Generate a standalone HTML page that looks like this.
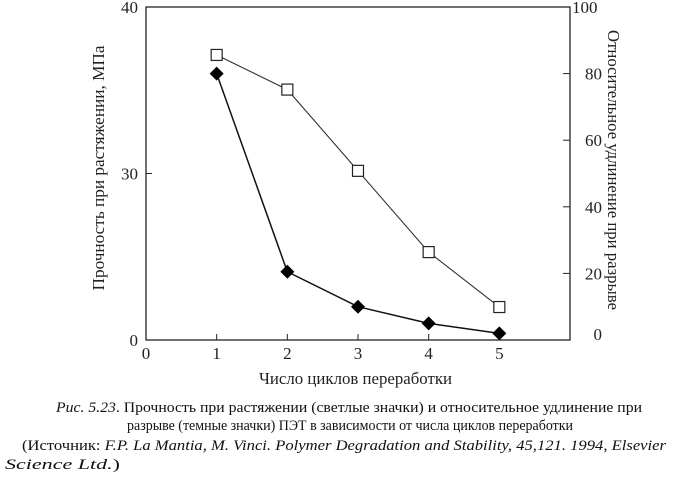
<!DOCTYPE html>
<html><head><meta charset="utf-8"><style>
body{margin:0;background:#fff;width:679px;height:479px;overflow:hidden;font-family:"Liberation Serif",serif}
svg{display:block}
.t{font-size:17px;fill:#222;font-family:"Liberation Serif",serif}
.ttl{font-size:17px;fill:#222;font-family:"Liberation Serif",serif}
.cap{font-size:15px;fill:#111;font-family:"Liberation Serif",serif}
</style></head><body>
<svg width="679" height="479">
<g id="plot"></g>
<text class="ttl" x="259" y="384" textLength="193" lengthAdjust="spacingAndGlyphs">Число циклов переработки</text>
<text class="ttl" transform="translate(104,168) rotate(-90)" text-anchor="middle" textLength="245" lengthAdjust="spacingAndGlyphs">Прочность при растяжении, МПа</text>
<text class="ttl" transform="translate(608,170) rotate(90)" text-anchor="middle" textLength="280" lengthAdjust="spacingAndGlyphs">Относительное удлинение при разрыве</text>
<g class="cap">
<text x="56" y="412" textLength="586" lengthAdjust="spacingAndGlyphs"><tspan font-style="italic">Рис. 5.23</tspan>. Прочность при растяжении (светлые значки) и относительное удлинение при</text>
<text x="127" y="430" textLength="446" lengthAdjust="spacingAndGlyphs">разрыве (темные значки) ПЭТ в зависимости от числа циклов переработки</text>
<text x="22" y="450" textLength="644" lengthAdjust="spacingAndGlyphs">(Источник: <tspan font-style="italic">F.P. La Mantia, M. Vinci. Polymer Degradation and Stability, 45,121. 1994, Elsevier</tspan></text>
<text x="5" y="469" textLength="115" lengthAdjust="spacingAndGlyphs"><tspan font-style="italic">Science Ltd.</tspan>)</text>
</g>
</svg>
<script>
const cycles=[1,2,3,4,5];
const strength=[36.0,24.1,22.0,21.0,20.4];
const elongation=[85.6,75.2,50.8,26.4,9.9];
const xTicks=[0,1,2,3,4,5];
const leftTickVals=[20,30,40];
const leftTickLabels=["0","30","40"];
const rightTicks=[0,20,40,60,80,100];
const NS="http://www.w3.org/2000/svg";
const L=146,R=570,T=7,B=340;
const xs=v=>L+v*(R-L)/6;
const yl=v=>B-(v-20)*(B-T)/20;
const yr=v=>B-v*(B-T)/100;
const g=document.getElementById('plot');
function mk(tag,attrs){const e=document.createElementNS(NS,tag);for(const k in attrs)e.setAttribute(k,attrs[k]);g.appendChild(e);return e;}
const frame=mk('rect',{x:L,y:T,width:R-L,height:B-T,fill:'none',stroke:'#222','stroke-width':1.3});


xTicks.forEach(v=>{
  if(v>0){const tk=mk('line',{x1:xs(v),x2:xs(v),y1:B,y2:B-6,stroke:'#222'});
  
  }
  const t=mk('text',{x:xs(v),y:B+19,'text-anchor':'middle',class:'t'});t.textContent=v;
  
  
});
leftTickVals.forEach((v,i)=>{
  const tk=mk('line',{x1:L,x2:L+6,y1:yl(v),y2:yl(v),stroke:'#222'});
  
  
  const t=mk('text',{x:L-8,y:yl(v)+6,'text-anchor':'end',class:'t'});t.textContent=leftTickLabels[i];
  
  
});
rightTicks.forEach(v=>{
  const tk=mk('line',{x1:R,x2:R-7,y1:yr(v),y2:yr(v),stroke:'#222'});
  
  
  const t=mk('text',{x:v===100?R+2:R+32,y:yr(v)+(v===0?0:6),'text-anchor':v===100?'start':'end',class:'t'});t.textContent=v;
  
  
});
const p1=mk('polyline',{points:cycles.map((c,i)=>xs(c)+','+yr(elongation[i])).join(' '),fill:'none',stroke:'#333','stroke-width':1.1});


const p2=mk('polyline',{points:cycles.map((c,i)=>xs(c)+','+yl(strength[i])).join(' '),fill:'none',stroke:'#111','stroke-width':1.5});


cycles.forEach((c,i)=>{
  const x=xs(c),y=yr(elongation[i]);
  const s=mk('rect',{x:x-5.5,y:y-5.5,width:11,height:11,fill:'#fff',stroke:'#222','stroke-width':1.2});
  
  
  const x2=xs(c),y2=yl(strength[i]);
  const d=mk('polygon',{points:`${x2},${y2-7} ${x2+7},${y2} ${x2},${y2+7} ${x2-7},${y2}`,fill:'#000'});
  
  
});
</script>
</body></html>
